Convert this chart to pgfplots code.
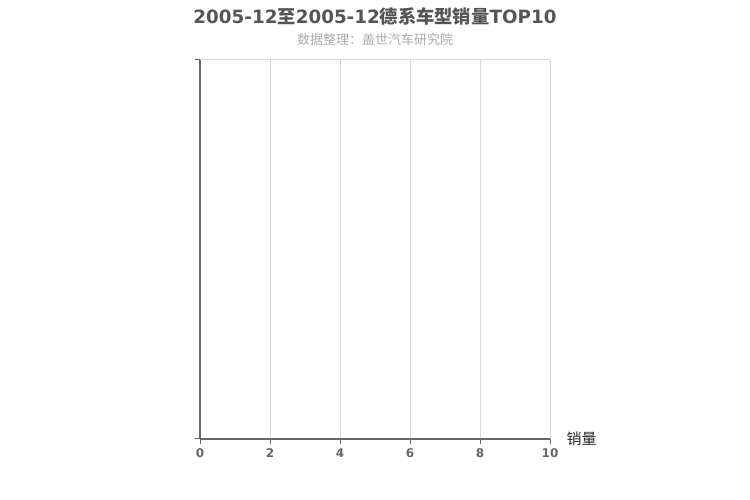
\documentclass[border=0pt]{standalone}
\usepackage{fontspec}
\usepackage{pgfplots}
\pgfplotsset{compat=1.18}
\setmainfont{DejaVu Sans}
\newfontfamily\cjk{Noto Sans CJK SC}
\definecolor{titlec}{HTML}{555555}
\definecolor{subc}{HTML}{AAAAAA}
\definecolor{axisc}{HTML}{666666}
\definecolor{gridc}{HTML}{D8D8D8}
\begin{document}
\begin{tikzpicture}[x=1pt,y=1pt]
\path[use as bounding box] (0,0) rectangle (750,500);
\node[font=\fontsize{18.3}{20}\selectfont\bfseries, text=titlec] at (375,484) {2005-12{\cjk\bfseries 至}2005-12{\cjk\bfseries 德系车型销量}TOP10};
\node[font=\fontsize{13}{15}\selectfont\cjk, text=subc] at (375,460) {数据整理：盖世汽车研究院};
\begin{axis}[
  at={(200pt,61pt)}, anchor=south west,
  scale only axis, width=350pt, height=379pt,
  xmin=0, xmax=10, ymin=0, ymax=1,
  xtick={0,2,4,6,8,10},
  ytick={0,1}, yticklabels={},
  axis x line*=bottom, axis y line*=left,
  tick align=outside,
  major tick length=5pt,
  xmajorgrids, ymajorgrids,
  grid style={gridc, line width=1pt},
  axis line style={axisc, line width=1.5pt, -},
  x axis line style={line width=1.5pt},
  y axis line style={line width=2pt},
  tick style={axisc, line width=1pt},
  every tick label/.append style={font=\fontsize{12}{14}\selectfont\bfseries, text=axisc},
  xticklabel style={yshift=-1pt},
  /pgf/number format/assume math mode=true,
  xlabel={\cjk 销量},
  xlabel style={at={(rel axis cs:1,0)}, anchor=west, xshift=13pt, yshift=0pt, font=\fontsize{15}{17}\selectfont, text=black!85},
]
\addplot[draw=none, forget plot] coordinates {(0,0)};
\draw[gridc, line width=1pt] (rel axis cs:1,0) -- (rel axis cs:1,1);
\end{axis}
\end{tikzpicture}
\end{document}
